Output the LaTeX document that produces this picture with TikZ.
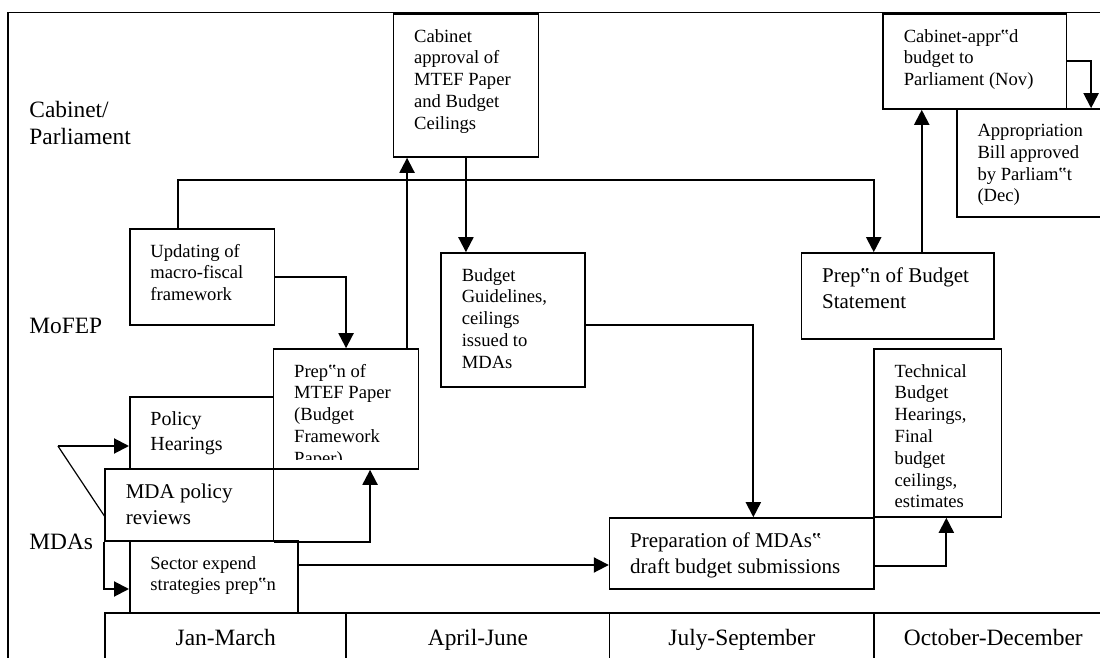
\documentclass[tikz,border=0pt]{standalone}
\usepackage{fontspec}
\setmainfont{Liberation Serif}
\usetikzlibrary{arrows.meta,fit,positioning}
\tikzset{
  box_n/.style = {draw=black, line width=0.8pt, inner sep=0pt},
  box_t/.style = {anchor=north west, inner sep=0pt, align=left, font=\fontsize{9.3}{10.9}\selectfont, below right=7.75pt and 10.5pt of #1.north west},
  box_m/.style = {box_t=#1, font=\fontsize{10.5}{13}\selectfont},
  lane_l/.style = {anchor=north west, inner sep=0pt, align=left, font=\fontsize{11.7}{13.4}\selectfont},
  month_l/.style = {anchor=base, inner sep=0pt, font=\fontsize{11.7}{13.4}\selectfont},
  rule_l/.style = {line width=0.8pt},
  arr/.style = {line width=1pt, -{Triangle[length=7.5pt,width=7.5pt]}}
}

\begin{document}
\begin{tikzpicture}[x=0.5pt, y=-0.5pt]
\useasboundingbox (0,0) rectangle (1100,658);
\clip (0,0) rectangle (1100,658);

\draw[rule_l] (8,670) -- (8,12.5) -- (1110,12.5);
\draw[rule_l] (105.2,670) -- (105.2,613) -- (1110,613);
\foreach \x in {346.2,609.6,874.1}
	\draw[rule_l] (\x,613) -- (\x,670);

\node[month_l] (m_jan) at (225.7,645) {Jan-March};
\node[month_l] (m_apr) at (477.9,645) {April-June};
\node[month_l] (m_jul) at (741.9,645) {July-September};
\node[month_l] (m_oct) at (993.3,645) {October-December};

\node[lane_l] (lane_cab) at (29,101) {Cabinet/\\Parliament};
\node[lane_l] (lane_mof) at (29,318) {MoFEP};
\node[lane_l] (lane_mda) at (29,534) {MDAs};

\node[box_n, fit={(393.5,14) (538.4,157)}] (cab_appr) {};
\node[box_n, fit={(129.8,229) (274.3,325)}] (upd) {};
\node[box_n, fit={(441.2,253) (585,387)}] (guide) {};
\node[box_n, fit={(273.6,349) (418.5,469)}] (mtef) {};
\node[box_n, fit={(129.8,397) (273.6,469)}] (pol_hear) {};
\node[box_n, fit={(105.2,469) (273.6,541)}] (mda_rev) {};
\node[box_n, fit={(129.8,541) (298.1,613)}] (sector) {};
\node[box_n, fit={(609.6,518) (874.1,589)}] (mda_prep) {};
\node[box_n, fit={(874.1,349) (1001.4,517)}] (tech) {};
\node[box_n, fit={(801.5,253) (994,339)}] (stmt) {};
\node[box_n, fit={(883.2,14) (1066.3,109)}] (cab_parl) {};
\node[box_n, fit={(956.9,109) (1130,217)}] (approp) {};

\node[box_t=cab_appr] (cab_appr_t) {Cabinet\\approval of\\MTEF Paper\\and Budget\\Ceilings};
\node[box_t=upd] (upd_t) {Updating of\\macro-fiscal\\framework};
\node[box_t=guide] (guide_t) {Budget\\Guidelines,\\ceilings\\issued to\\MDAs};
\begin{scope}
	\clip (mtef.north west) rectangle ([yshift=5pt]mtef.south east);
	\node[box_t=mtef] (mtef_t) {Prep‟n of\\MTEF Paper\\(Budget\\Framework\\Paper)};
\end{scope}
\node[box_t=pol_hear, font=\fontsize{10}{12.3}\selectfont] (pol_hear_t) {Policy\\Hearings};
\node[box_m=mda_rev] (mda_rev_t) {MDA policy\\reviews};
\node[box_t=sector] (sector_t) {Sector expend\\strategies prep‟n};
\node[box_m=mda_prep] (mda_prep_t) {Preparation of MDAs‟\\draft budget submissions};
\node[box_t=tech] (tech_t) {Technical\\Budget\\Hearings,\\Final\\budget\\ceilings,\\estimates};
\node[box_m=stmt] (stmt_t) {Prep‟n of Budget\\Statement};
\node[box_t=cab_parl] (cab_parl_t) {Cabinet-appr‟d\\budget to\\Parliament (Nov)};
\node[box_t=approp] (approp_t) {Appropriation\\Bill approved\\by Parliam‟t\\(Dec)};

\draw[arr] ([xshift=-12pt]upd.north) -- ++(0,-48) -| ([xshift=-12pt]stmt.north);
\draw[arr] (upd.east) -| (mtef.north);
\draw[arr] ([xshift=30.5pt]mtef.north) -- ([xshift=30.5pt]mtef.north |- cab_appr.south);
\draw[arr] (cab_appr.south) -- (cab_appr.south |- guide.north);
\draw[arr] ([yshift=-2.5pt]guide.east) -| ([xshift=5.75pt]mda_prep.north);
\draw[arr] ([xshift=12pt]stmt.north) -- ([xshift=12pt]stmt.north |- cab_parl.south);
\draw[arr] (cab_parl.east) -- ++(24,0) coordinate (parl_turn) -- (parl_turn |- approp.north);
\draw[arr] ([yshift=6pt]sector.east) -- ([yshift=6pt]sector.east -| mda_prep.west);
\draw[arr] ([yshift=-6pt]mda_prep.east) -| ([xshift=4.3pt]tech.south);
\draw[arr] (mda_rev.south east) -| ([xshift=12pt]mtef.south);

\coordinate (fork) at (57.9,446);
\draw[arr] (fork) -- (fork -| pol_hear.west);
\draw[line width=0.6pt] (fork) -- ([yshift=-5.5pt]mda_rev.west);
\draw[arr] (mda_rev.south west) |- ([yshift=-6pt]sector.west);
\end{tikzpicture}
\end{document}
